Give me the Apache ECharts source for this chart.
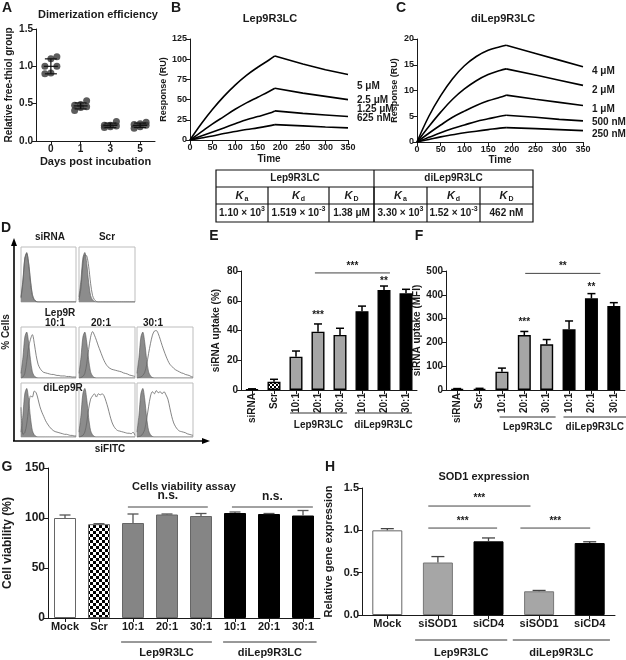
<!DOCTYPE html>
<html>
<head>
<meta charset="utf-8">
<title>Lep9R3LC figure</title>
<script src="https://cdn.jsdelivr.net/npm/echarts@6.0.0/dist/echarts.min.js"></script>
<style>
  html, body { margin: 0; padding: 0; background: #fff; }
  #chart { width: 626px; height: 660px; }
</style>
</head>
<body>
<div id="chart"></div>
<script>
'use strict';

// ---- A: dimerization (free thiol) ----
var thiolDays = ['0', '1', '3', '5'];
var thiolDay0 = [0.90, 0.91, 1.00, 1.00, 1.10, 1.13];
var thiolDay1 = [0.41, 0.45, 0.46, 0.48, 0.49, 0.54];
var thiolDay3 = [0.18, 0.19, 0.20, 0.21, 0.21, 0.26];
var thiolDay5 = [0.17, 0.19, 0.21, 0.22, 0.23, 0.25];
var thiolMean = [1.00, 0.47, 0.21, 0.21];
var thiolSd = [0.10, 0.04, 0.03, 0.03];

// ---- B / C: SPR sensorgrams ----
var sprTime = [0, 25, 50, 75, 100, 125, 150, 175, 188, 250, 300, 350];
var lepLabels = ['5 μM', '2.5 μM', '1.25 μM', '625 nM'];
var lep5 = [0, 20, 38, 54, 68, 80, 90, 99, 104, 94, 87, 81];
var lep25 = [0, 10, 20, 29, 38, 46, 53, 60, 64, 58, 54, 50];
var lep125 = [0, 5, 10, 15, 20, 25, 29, 33, 36, 33, 31, 29];
var lep625 = [0, 2.5, 5, 8, 10.5, 13, 15, 17.5, 19, 17.5, 16, 15];
var diLabels = ['4 μM', '2 μM', '1 μM', '500 nM', '250 nM'];
var di4 = [0, 5, 9, 12.3, 14.8, 16.6, 17.8, 18.5, 18.8, 17.2, 15.9, 14.6];
var di2 = [0, 3, 5.8, 8.3, 10.3, 11.9, 13.1, 13.9, 14.2, 13, 12, 11];
var di1 = [0, 1.7, 3.3, 4.8, 6, 7.1, 8, 8.7, 9.1, 8.3, 7.7, 7.1];
var di05 = [0, 0.9, 1.8, 2.6, 3.3, 4, 4.5, 5, 5.2, 4.8, 4.4, 4.1];
var di025 = [0, 0.5, 1, 1.4, 1.8, 2.1, 2.4, 2.7, 2.8, 2.6, 2.4, 2.2];

// ---- kinetics table ----
var kinGroups = ['Lep9R3LC', 'diLep9R3LC'];
var kinSymbols = ['a', 'd', 'D', 'a', 'd', 'D'];
var kinMantissa = ['1.10 × 10', '1.519 × 10', '1.38 μM', '3.30 × 10', '1.52 × 10', '462 nM'];
var kinExponent = ['3', '-3', '', '3', '-3', ''];

// ---- D: flow cytometry histograms (% of max, 30 bins) ----
var flowCtrl = [9, 40, 80, 90, 70, 36, 12, 4, 1, 0, 0, 0, 0, 0, 0, 0, 0, 0, 0, 0, 0, 0, 0, 0, 0, 0, 0, 0, 0, 0];
var flowSiRna = [7, 36, 78, 88, 72, 40, 14, 4, 1, 0, 0, 0, 0, 0, 0, 0, 0, 0, 0, 0, 0, 0, 0, 0, 0, 0, 0, 0, 0, 0];
var flowScr = [4, 25, 68, 85, 84, 65, 34, 12, 4, 1, 0, 0, 0, 0, 0, 0, 0, 0, 0, 0, 0, 0, 0, 0, 0, 0, 0, 0, 0, 0];
var flowLep10 = [0, 2, 9, 32, 60, 76, 85, 68, 44, 27, 19, 14, 11, 10, 9, 8, 7, 7, 6, 5, 5, 4, 4, 4, 3, 3, 3, 2, 2, 2];
var flowLep20 = [0, 1, 3, 9, 28, 56, 80, 91, 84, 74, 63, 53, 43, 34, 27, 22, 19, 17, 16, 15, 14, 13, 12, 10, 9, 8, 6, 5, 4, 3];
var flowLep30 = [0, 1, 2, 5, 11, 26, 48, 68, 84, 92, 93, 87, 76, 64, 53, 43, 34, 27, 23, 19, 16, 14, 12, 10, 9, 7, 6, 5, 3, 2];
var flowDi10 = [55, 5, 8, 24, 52, 76, 74, 85, 82, 70, 56, 46, 38, 30, 24, 19, 15, 12, 10, 9, 8, 7, 6, 5, 5, 4, 3, 3, 2, 2];
var flowDi20 = [0, 1, 3, 9, 26, 52, 70, 76, 80, 74, 80, 78, 80, 76, 66, 54, 40, 28, 20, 15, 12, 11, 10, 9, 8, 7, 7, 6, 9, 3];
var flowDi30 = [0, 1, 2, 6, 14, 33, 56, 76, 84, 80, 86, 82, 84, 80, 84, 78, 70, 54, 38, 26, 19, 14, 11, 10, 9, 8, 6, 5, 4, 3];

// ---- E / F: siRNA uptake ----
var uptakeCats = ['siRNA', 'Scr', '10:1', '20:1', '30:1', '10:1', '20:1', '30:1'];
var uptakePct = [0.5, 5.5, 22.4, 39.2, 37, 53, 67.2, 65];
var uptakePctErr = [0.3, 1.7, 3.8, 5.2, 4.5, 3.4, 2.7, 2.7];
var uptakeMfi = [4, 5, 77, 231, 192, 255, 385, 353];
var uptakeMfiErr = [2, 2, 15, 15, 20, 35, 20, 14];

// ---- G: viability ----
var viabCats = ['Mock', 'Scr', '10:1', '20:1', '30:1', '10:1', '20:1', '30:1'];
var viab = [100, 93.8, 95, 103.5, 102, 105, 104, 102.5];
var viabErr = [3, 0.5, 9, 0.5, 2.5, 1, 0.5, 5];

// ---- H: SOD1 expression ----
var sodCats = ['Mock', 'siSOD1', 'siCD4', 'siSOD1', 'siCD4'];
var sod = [1.0, 0.62, 0.87, 0.28, 0.85];
var sodErr = [0.02, 0.07, 0.04, 0.01, 0.015];

var FONT = '"Liberation Sans", Arial, Helvetica, sans-serif';
var INK = '#1a1a1a';

var grids = [], xAxes = [], yAxes = [], series = [], graphics = [];

function addGrid(box, xa, ya) {
    var i = grids.length;
    grids.push({ left: box[0], top: box[1], width: box[2], height: box[3], outerBoundsMode: 'none',
        show: !!box[4], borderColor: '#bdbdbd', borderWidth: 1 });
    xa.gridIndex = i;
    ya.gridIndex = i;
    xAxes.push(xa);
    yAxes.push(ya);
    return i;
}

function axisBase(fs, name, gap) {
    return {
        axisLine: { show: true, lineStyle: { color: INK, width: 1 } },
        axisTick: { show: true, length: 4, alignWithLabel: true, lineStyle: { color: INK } },
        splitLine: { show: false },
        axisLabel: { fontSize: fs, fontWeight: 'bold', color: INK, fontFamily: FONT, margin: 3, interval: 0 },
        name: name || '', nameLocation: 'middle', nameGap: gap || 20,
        nameTextStyle: { fontSize: fs, fontWeight: 'bold', color: INK, fontFamily: FONT }
    };
}

function valueAxis(min, max, step, fs, name, gap, fmt) {
    var a = axisBase(fs, name, gap);
    a.type = 'value';
    a.min = min;
    a.max = max;
    a.interval = step;
    if (fmt) {
        a.axisLabel.formatter = fmt;
    }
    return a;
}

function categoryAxis(cats, fs, name, gap) {
    var a = axisBase(fs, name, gap);
    a.type = 'category';
    a.data = cats;
    return a;
}

function hiddenAxis(max) {
    return { type: 'value', show: false, min: 0, max: max };
}

function seg(x1, y1, x2, y2, style) {
    return { type: 'line', shape: { x1: x1, y1: y1, x2: x2, y2: y2 }, style: style };
}

function textEl(x, y, s, fs, opt) {
    opt = opt || {};
    var style = {
        text: s, fill: opt.color || INK,
        font: (opt.italic ? 'italic ' : '') + 'bold ' + fs + 'px ' + FONT,
        align: opt.align || 'center', verticalAlign: opt.va || 'middle',
        textAlign: opt.align || 'center', textVerticalAlign: opt.va || 'middle'
    };
    if (opt.rich) {
        style.rich = opt.rich;
    }
    return { type: 'text', x: x, y: y, rotation: opt.rot || 0, z: 20, style: style };
}

// error bars on top of bars (upper whisker only)
function errorSeries(gi, vals, errs, cap, color, width) {
    return {
        type: 'custom', xAxisIndex: gi, yAxisIndex: gi, z: 5, silent: true,
        data: vals.map(function (v, i) { return [i, v, v + errs[i]]; }),
        renderItem: function (params, api) {
            var lo = api.coord([api.value(0), api.value(1)]);
            var hi = api.coord([api.value(0), api.value(2)]);
            var st = { stroke: color, lineWidth: width };
            return { type: 'group', children: [
                seg(lo[0], lo[1], hi[0], hi[1], st),
                seg(hi[0] - cap / 2, hi[1], hi[0] + cap / 2, hi[1], st)
            ] };
        }
    };
}

// significance brackets: [fromCat, toCat, y, text, textLift]
function bracketSeries(gi, list, fs) {
    return {
        type: 'custom', xAxisIndex: gi, yAxisIndex: gi, z: 6, silent: true,
        data: list.map(function (b) { return [0, b[2]]; }),
        renderItem: function (params, api) {
            var b = list[params.dataIndex];
            var p0 = api.coord([0, b[2]]);
            var p1 = api.coord([1, b[2]]);
            var bw = p1[0] - p0[0];
            var xa = p0[0] + b[0] * bw;
            var xb = p0[0] + b[1] * bw;
            var kids = [textEl((xa + xb) / 2, p0[1] - b[4], b[3], fs)];
            if (b[0] !== b[1]) {
                kids.push(seg(xa, p0[1], xb, p0[1], { stroke: '#444', lineWidth: 1 }));
            }
            return { type: 'group', children: kids };
        }
    };
}

// group captions under the category axis: [fromCat, toCat, text]
function groupSeries(gi, yMin, list, lineGap, textGap, fs) {
    return {
        type: 'custom', xAxisIndex: gi, yAxisIndex: gi, z: 6, silent: true,
        data: list.map(function () { return [0, yMin]; }),
        renderItem: function (params, api) {
            var g = list[params.dataIndex];
            var p0 = api.coord([0, yMin]);
            var p1 = api.coord([1, yMin]);
            var bw = p1[0] - p0[0];
            var xa = p0[0] + g[0] * bw;
            var xb = p0[0] + g[1] * bw;
            return { type: 'group', children: [
                seg(xa, p0[1] + lineGap, xb, p0[1] + lineGap, { stroke: '#333', lineWidth: 1 }),
                textEl((xa + xb) / 2, p0[1] + textGap, g[2], fs)
            ] };
        }
    };
}

function checker(size) {
    var c = document.createElement('canvas');
    c.width = size * 2;
    c.height = size * 2;
    var ctx = c.getContext('2d');
    ctx.fillStyle = '#fff';
    ctx.fillRect(0, 0, size * 2, size * 2);
    ctx.fillStyle = '#000';
    ctx.fillRect(0, 0, size, size);
    ctx.fillRect(size, size, size, size);
    return { image: c, repeat: 'repeat' };
}

function barSeries(gi, vals, fills, borders, bw, borderW) {
    return {
        type: 'bar', xAxisIndex: gi, yAxisIndex: gi, barWidth: bw, z: 3,
        data: vals.map(function (v, i) {
            return { value: v, itemStyle: { color: fills[i], borderColor: borders[i], borderWidth: borderW } };
        })
    };
}

// ---------- A ----------
var gA = addGrid([36, 29, 119, 112],
    categoryAxis(thiolDays, 10, 'Days post incubation', 15),
    valueAxis(0, 1.5, 0.5, 10, 'Relative free-thiol group', 22, function (v) { return v.toFixed(1); }));
xAxes[gA].nameTextStyle.fontSize = 11;
[thiolDay0, thiolDay1, thiolDay3, thiolDay5].forEach(function (pts, d) {
    series.push({
        type: 'scatter', xAxisIndex: gA, yAxisIndex: gA, symbolSize: 7, z: 3,
        itemStyle: { color: '#333' },
        data: pts.map(function (v, i) {
            return { value: [d, v], symbolOffset: [((i % 3) - 1) * 6, 0] };
        })
    });
});
series.push({
    type: 'custom', xAxisIndex: gA, yAxisIndex: gA, z: 6, silent: true,
    data: thiolMean.map(function (m, i) { return [i, m]; }),
    renderItem: function (params, api) {
        var i = params.dataIndex;
        var m = api.coord([i, thiolMean[i]]);
        var hi = api.coord([i, thiolMean[i] + thiolSd[i]]);
        var lo = api.coord([i, thiolMean[i] - thiolSd[i]]);
        var st = { stroke: '#111', lineWidth: 1.2 };
        return { type: 'group', children: [
            seg(m[0] - 7, m[1], m[0] + 7, m[1], st),
            seg(m[0], lo[1], m[0], hi[1], st),
            seg(m[0] - 6, hi[1], m[0] + 6, hi[1], st),
            seg(m[0] - 6, lo[1], m[0] + 6, lo[1], st)
        ] };
    }
});

// ---------- B / C ----------
function sprSeries(gi, curves) {
    var peak = sprTime.indexOf(188);
    curves.forEach(function (c) {
        var pts = sprTime.map(function (t, i) { return [t, c[i]]; });
        series.push({ type: 'line', xAxisIndex: gi, yAxisIndex: gi, showSymbol: false, smooth: 0.4,
            lineStyle: { color: '#000', width: 1.6 }, data: pts.slice(0, peak + 1) });
        series.push({ type: 'line', xAxisIndex: gi, yAxisIndex: gi, showSymbol: false, smooth: false,
            lineStyle: { color: '#000', width: 1.6 }, data: pts.slice(peak) });
    });
}
var gB = addGrid([190, 39, 158, 101],
    valueAxis(0, 350, 50, 9, 'Time', 14),
    valueAxis(0, 125, 25, 9, 'Response (RU)', 22));
xAxes[gB].nameTextStyle.fontSize = 10;
sprSeries(gB, [lep5, lep25, lep125, lep625]);
var gC = addGrid([417, 39, 166, 103],
    valueAxis(0, 350, 50, 9, 'Time', 13),
    valueAxis(0, 20, 5, 9, 'Response (RU)', 18));
xAxes[gC].nameTextStyle.fontSize = 10;
sprSeries(gC, [di4, di2, di1, di05, di025]);

// ---------- E ----------
var lightGray = '#a6a6a6';
var gE = addGrid([241, 271, 176, 119],
    categoryAxis(uptakeCats, 10),
    valueAxis(0, 80, 20, 10, 'siRNA uptake (%)', 20));
xAxes[gE].axisLabel.rotate = 90;
var upFills = ['#fff', checker(2), lightGray, lightGray, lightGray, '#000', '#000', '#000'];
var upBorders = ['#000', '#000', '#000', '#000', '#000', '#000', '#000', '#000'];
series.push(barSeries(gE, uptakePct, upFills, upBorders, 13, 1.4));
series.push(errorSeries(gE, uptakePct, uptakePctErr, 8, '#000', 1.5));
series.push(bracketSeries(gE, [[3, 3, uptakePct[3] + uptakePctErr[3], '***', 9], [6, 6, uptakePct[6] + uptakePctErr[6], '**', 5], [2.86, 6.27, 78.7, '***', 7]], 10));
series.push(groupSeries(gE, 0, [[1.73, 4.32, 'Lep9R3LC'], [4.68, 7.27, 'diLep9R3LC']], 23, 35, 10));

// ---------- F ----------
var gF = addGrid([446, 271, 179, 119],
    categoryAxis(uptakeCats, 10),
    valueAxis(0, 500, 100, 10, 'siRNA uptake (MFI)', 24));
xAxes[gF].axisLabel.rotate = 90;
series.push(barSeries(gF, uptakeMfi, upFills, upBorders, 13, 1.4));
series.push(errorSeries(gF, uptakeMfi, uptakeMfiErr, 8, '#000', 1.5));
series.push(bracketSeries(gF, [[3, 3, uptakeMfi[3] + uptakeMfiErr[3], '***', 9], [6, 6, uptakeMfi[6] + uptakeMfiErr[6], '**', 6], [3.04, 6.4, 490, '**', 7]], 10));
series.push(groupSeries(gF, 0, [[1.9, 4.4, 'Lep9R3LC'], [4.75, 7.55, 'diLep9R3LC']], 27, 37, 10));

// ---------- G ----------
var midGray = '#858585';
var gG = addGrid([48, 468, 272, 150],
    categoryAxis(viabCats, 11),
    valueAxis(0, 150, 50, 12, 'Cell viability (%)', 34));
var vFills = ['#fff', checker(3), midGray, midGray, midGray, '#000', '#000', '#000'];
var vBorders = ['#666', '#666', '#666', '#666', '#666', '#000', '#000', '#000'];
series.push(barSeries(gG, viab, vFills, vBorders, 22, 1));
series.push(errorSeries(gG, viab, viabErr, 11, '#555', 1.3));
series.push(bracketSeries(gG, [[1.85, 4.2, 111, 'n.s.', 11], [4.91, 7.29, 111, 'n.s.', 10]], 12));
series.push(groupSeries(gG, 0, [[1.65, 4.32, 'Lep9R3LC'], [4.65, 7.4, 'diLep9R3LC']], 24, 35, 11));

// ---------- H ----------
var gH = addGrid([362, 488, 253, 127],
    categoryAxis(sodCats, 11),
    valueAxis(0, 1.5, 0.5, 11, 'Relative gene expression', 28, function (v) { return v.toFixed(1); }));
var sFills = ['#fff', lightGray, '#000', lightGray, '#000'];
var sBorders = ['#666', '#777', '#000', '#777', '#000'];
series.push(barSeries(gH, sod, sFills, sBorders, 30, 1));
series.push(errorSeries(gH, sod, sodErr, 13, '#444', 1.3));
series.push(bracketSeries(gH, [[0.81, 2.83, 1.287, '***', 8], [0.81, 2.17, 1.027, '***', 7], [2.63, 4.01, 1.027, '***', 7]], 10));
series.push(groupSeries(gH, 0, [[0.55, 2.37, 'Lep9R3LC'], [2.48, 4.4, 'diLep9R3LC']], 25, 38, 11));

// ---------- D: histogram boxes ----------
var flowBoxes = [
    [21, 247, 55, 55, flowSiRna], [79, 247, 56, 55, flowScr],
    [21, 327, 55, 51, flowLep10], [79, 327, 56, 51, flowLep20], [137, 327, 56, 51, flowLep30],
    [21, 383, 55, 54, flowDi10], [79, 383, 56, 54, flowDi20], [137, 383, 56, 54, flowDi30]
];
flowBoxes.forEach(function (b) {
    var gi = addGrid([b[0], b[1], b[2], b[3], true], hiddenAxis(flowCtrl.length - 1), hiddenAxis(100));
    series.push({ type: 'line', xAxisIndex: gi, yAxisIndex: gi, showSymbol: false, smooth: 0.3,
        lineStyle: { color: '#555', width: 0.6 }, areaStyle: { color: '#8c8c8c', opacity: 1 },
        data: flowCtrl.map(function (v, i) { return [i, v]; }) });
    series.push({ type: 'line', xAxisIndex: gi, yAxisIndex: gi, showSymbol: false, smooth: 0.3,
        lineStyle: { color: '#666', width: 0.8 },
        data: b[4].map(function (v, i) { return [i, v]; }) });
});

// ---------- text, table, arrows ----------
var letters = [['A', 7, 8], ['B', 176, 8], ['C', 401, 8], ['D', 6, 228], ['E', 214, 236], ['F', 419, 236], ['G', 7, 467], ['H', 330, 467]];
letters.forEach(function (l) { graphics.push(textEl(l[1], l[2], l[0], 14)); });

graphics.push(textEl(98, 15, 'Dimerization efficiency', 11));
graphics.push(textEl(270, 19, 'Lep9R3LC', 11));
graphics.push(textEl(503, 19, 'diLep9R3LC', 11));
graphics.push(textEl(184, 487, 'Cells viability assay', 11));
graphics.push(textEl(484, 477, 'SOD1 expression', 11));

var lepLabelY = [86, 100, 109, 118];
lepLabels.forEach(function (s, i) { graphics.push(textEl(357, lepLabelY[i], s, 10, { align: 'left' })); });
var diLabelY = [71, 90, 109, 122, 134];
diLabels.forEach(function (s, i) { graphics.push(textEl(592, diLabelY[i], s, 10, { align: 'left' })); });

// kinetics table
var tL = 216, tR = 533, tT = 170, tRows = [187, 204], tB = 222;
var tCols = [268, 329, 374, 427, 480];
var lineSt = { stroke: '#111', lineWidth: 1.2 };
graphics.push({ type: 'rect', shape: { x: tL, y: tT, width: tR - tL, height: tB - tT }, style: { fill: 'none', stroke: '#111', lineWidth: 1.2 } });
tRows.forEach(function (y) { graphics.push(seg(tL, y, tR, y, lineSt)); });
graphics.push(seg(374, tT, 374, tB, lineSt));
tCols.forEach(function (x) { graphics.push(seg(x, tRows[0], x, tB, lineSt)); });
graphics.push(textEl((tL + 374) / 2, 178.5, kinGroups[0], 10));
graphics.push(textEl((374 + tR) / 2, 178.5, kinGroups[1], 10));
var colEdges = [tL].concat(tCols).concat([tR]);
var rich = {
    k: { fontStyle: 'italic', fontWeight: 'bold', fontSize: 11, fontFamily: FONT, fill: INK },
    s: { fontWeight: 'bold', fontSize: 7, fontFamily: FONT, padding: [7, 0, 0, 1], fill: INK },
    n: { fontWeight: 'bold', fontSize: 10, fontFamily: FONT, fill: INK },
    p: { fontWeight: 'bold', fontSize: 7, fontFamily: FONT, padding: [0, 0, 7, 0], fill: INK }
};
kinSymbols.forEach(function (sym, i) {
    var cx = (colEdges[i] + colEdges[i + 1]) / 2;
    graphics.push(textEl(cx, 195.5, '{k|K}{s|' + sym + '}', 11, { rich: rich }));
    var v = kinExponent[i] ? '{n|' + kinMantissa[i] + '}{p|' + kinExponent[i] + '}' : '{n|' + kinMantissa[i] + '}';
    graphics.push(textEl(cx, 213, v, 10, { rich: rich }));
});

// D labels and arrow axes
graphics.push(textEl(50, 237, 'siRNA', 10));
graphics.push(textEl(107, 237, 'Scr', 10));
graphics.push(textEl(60, 313, 'Lep9R', 10));
graphics.push(textEl(55, 323, '10:1', 10));
graphics.push(textEl(101, 323, '20:1', 10));
graphics.push(textEl(153, 323, '30:1', 10));
graphics.push(textEl(63, 388, 'diLep9R', 10));
graphics.push(textEl(110, 449, 'siFITC', 10));
graphics.push(textEl(6, 332, '% Cells', 10, { rot: Math.PI / 2 }));
var arrowSt = { stroke: '#000', lineWidth: 1.6 };
graphics.push(seg(14, 441, 14, 244, arrowSt));
graphics.push(seg(13, 441, 204, 441, arrowSt));
graphics.push({ type: 'polygon', shape: { points: [[14, 238], [11, 246], [17, 246]] }, style: { fill: '#000' } });
graphics.push({ type: 'polygon', shape: { points: [[210, 441], [202, 438], [202, 444]] }, style: { fill: '#000' } });

var chart = echarts.init(document.getElementById('chart'), null, { renderer: 'canvas' });
chart.setOption({
    animation: false,
    backgroundColor: '#fff',
    textStyle: { fontFamily: FONT },
    grid: grids,
    xAxis: xAxes,
    yAxis: yAxes,
    series: series,
    graphic: { elements: graphics }
});
</script>
</body>
</html>
